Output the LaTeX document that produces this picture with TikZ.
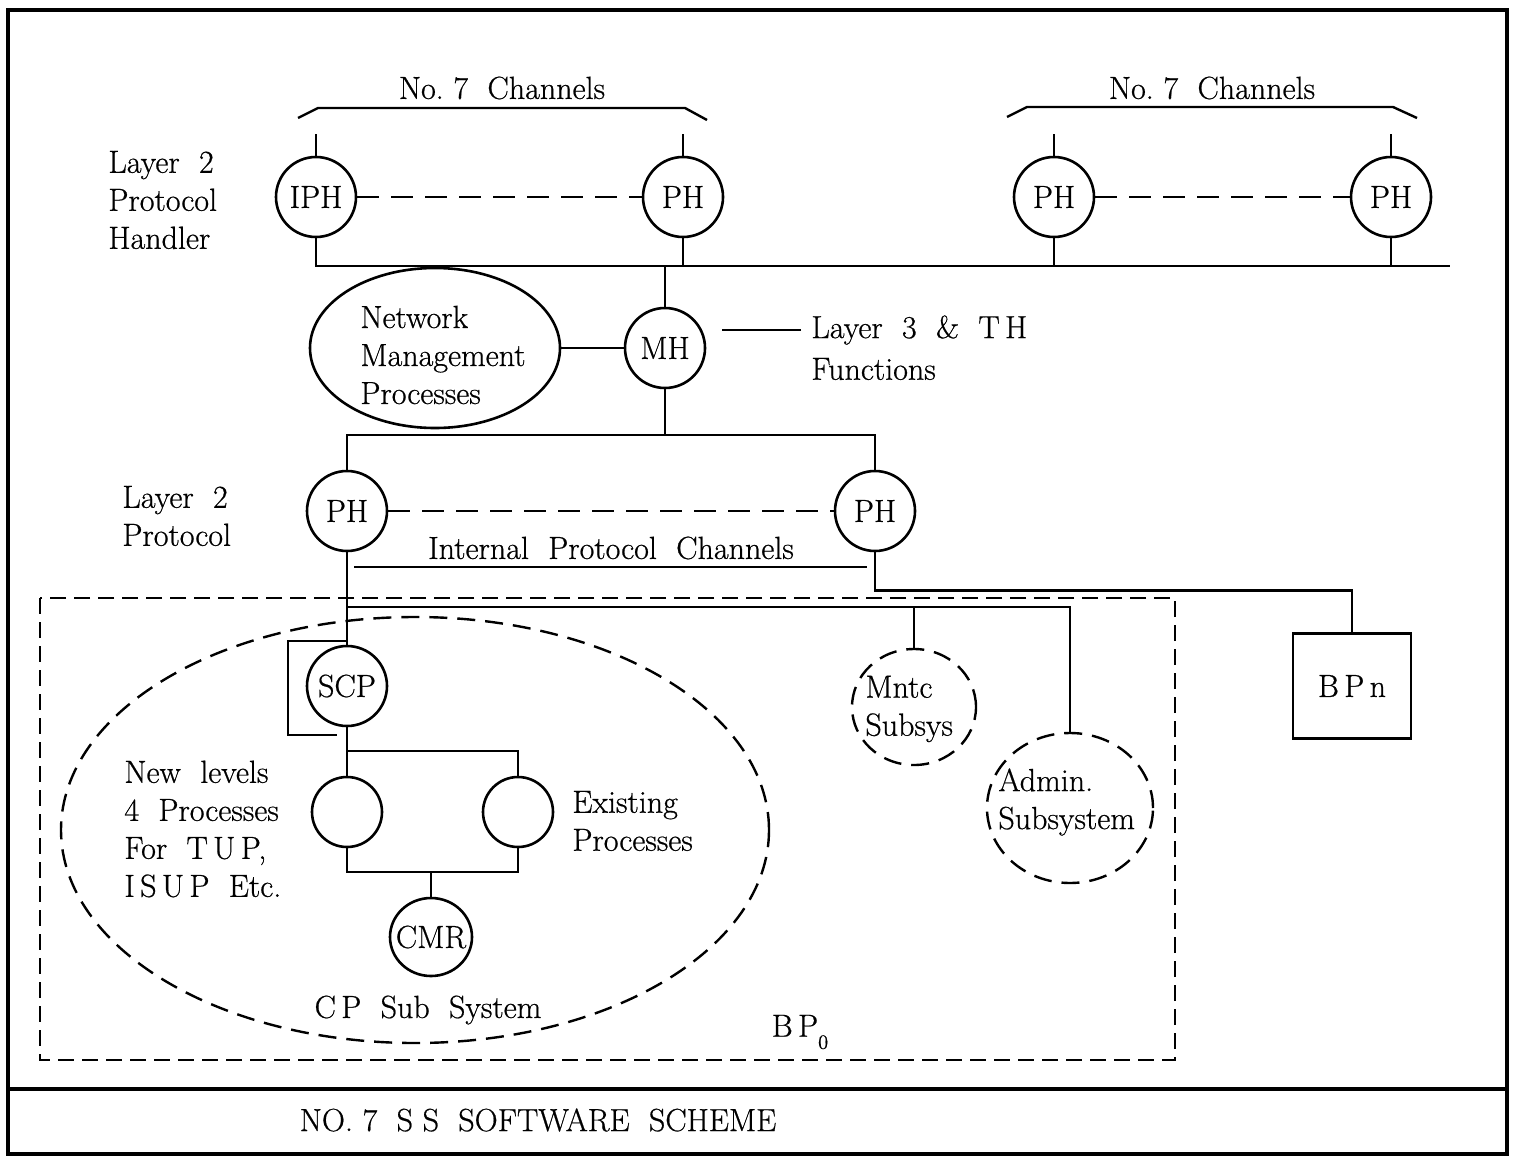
\documentclass[tikz,border=0pt]{standalone}
\usepackage{fontspec}
\setmainfont{Latin Modern Roman}[FakeBold=0.6]
\usetikzlibrary{shapes.geometric}
\begin{document}
\begin{tikzpicture}[x=0.5pt,y=-0.5pt,
  every node/.style={font=\fontsize{16}{19}\selectfont},
  wire/.style={line width=1.2pt},
  proc/.style={ellipse,draw,line width=1.3pt,inner sep=0pt,minimum width=40pt,minimum height=40pt},
  small/.style={proc,minimum width=35pt,minimum height=35pt},
  sub/.style={ellipse,draw,line width=1.2pt,inner sep=0pt,dash pattern=on 9pt off 5pt},
  txt/.style={inner sep=0pt,align=left},
  link/.style={wire,dash pattern=on 11pt off 6pt}]
\useasboundingbox (0,0) rectangle (1519,1156);

% frame and caption strip
\draw[line width=2pt] (8,10) rectangle (1507,1154);
\draw[line width=2pt] (8,1089) -- (1507,1089);
\node (title) at (538,1120) {NO.~7~~S~S~~SOFTWARE~~SCHEME};

% No. 7 channels
\node (ch1) at (502,88) {No.~7~~Channels};
\node (ch2) at (1212,88) {No.~7~~Channels};
\draw[wire] (298,118) -- (318,108) -- (685,108) -- (707,120);
\draw[wire] (1007,117) -- (1027,107) -- (1393,107) -- (1417,118);

% layer 2 protocol handlers
\node[proc] (iph) at (316,197) {\makebox[0pt]{IPH}};
\node[proc] (pha) at (683,197) {\makebox[0pt]{PH}};
\node[proc] (phb) at (1054,197) {\makebox[0pt]{PH}};
\node[proc] (phc) at (1391,197) {\makebox[0pt]{PH}};
\node[txt,anchor=west] (l2h) at (108,200) {Layer~~2\\Protocol\\Handler};

\foreach \n in {iph,pha,phb,phc}
  \draw[wire] (\n.north) -- ++(0,-22);
\draw[link] (iph.east) -- (pha.west);
\draw[link] (phb.east) -- (phc.west);

\coordinate (busR) at (1450,266);
\draw[wire] (iph.south) |- (busR);
\foreach \n in {pha,phb,phc}
  \draw[wire] (\n.south) -- (\n.south |- busR);

% message handler
\node[proc] (mh) at (665,348) {\makebox[0pt]{MH}};
\node[ellipse,draw,line width=1.3pt,minimum width=125pt,minimum height=80pt] (nmp) at (435,348) {};
\node[txt,anchor=west] at (360,355) {Network\\Management\\Processes};
\draw[wire] (mh.north) -- (mh.north |- busR);
\draw[wire] (nmp.east) -- (mh.west);
\node[txt,anchor=west] (l3) at (811,330) {Layer~~3~~\&~~T\,H};
\node[txt,anchor=west] (fn) at (811,369) {Functions};
\draw[wire] (l3.west) ++(-10,0) -- ++(-79,0);

% internal layer 2
\coordinate (b2) at (665,435);
\node[proc] (ph5) at (347,511) {\makebox[0pt]{PH}};
\node[proc] (ph6) at (875,511) {\makebox[0pt]{PH}};
\draw[wire] (mh.south) -- (b2);
\draw[wire] (ph5.north) |- (b2) -| (ph6.north);
\draw[link] (ph5.east) -- (ph6.west);
\node[txt,anchor=west] (l2p) at (122,516) {Layer~~2\\Protocol};
\node (ipc) at (611,548) {Internal~~Protocol~~Channels};
\draw[wire] (354,567) -- (867,567);

% BP n
\node[draw,line width=1.3pt,minimum width=59pt,minimum height=52.5pt] (bpn) at (1352,686) {B\,P\,n};
\draw[wire] (ph6.south) -- ++(0,38) -| (bpn.north);

% BP 0
\draw[line width=1.2pt,dash pattern=on 8pt off 4pt] (40,598) rectangle (1175,1060);
\node (bp0) at (800,1032) {B\,P\raisebox{-6pt}{\fontsize{10}{10}\selectfont 0}};

% CP sub system
\node[sub,minimum width=354pt,minimum height=213pt] (cpss) at (415,830) {};
\node (cpl) at (428,1010) {C\,P~~Sub~~System};
\node[proc] (scp) at (347,686) {\makebox[0pt]{SCP}};
\node[small] (pl) at (347,812) {};
\node[small] (pr) at (518,812) {};
\node[proc,minimum width=41pt,minimum height=39pt] (cmr) at (431,937) {\makebox[0pt]{CMR}};
\node[txt,anchor=west] at (124,829) {New~~levels\\4~~Processes\\For~~T\,U\,P,\\I\,S\,U\,P~~Etc.};
\node[txt,anchor=west] at (572,821) {Existing\\Processes};

\coordinate (j1) at (347,607);
\coordinate (b3) at (347,751);
\coordinate (b4) at (431,872);
\draw[wire] (ph5.south) -- (scp.north);
\draw[wire] (347,641) -- (288,641) -- (288,735) -- (337,735);
\draw[wire] (scp.south) -- (pl.north);
\draw[wire] (b3) -| (pr.north);
\draw[wire] (pl.south) |- (b4) -| (pr.south);
\draw[wire] (b4) -- (cmr.north);

% maintenance and admin subsystems
\node[sub,minimum width=62pt,minimum height=58pt] (mntc) at (914,707) {};
\node[txt,anchor=west] at (865,709) {Mntc\\Subsys};
\node[sub,minimum width=83pt,minimum height=75pt] (admin) at (1070,808) {};
\node[txt,anchor=west] at (998,802) {Admin.\\Subsystem};
\draw[wire] (j1) -| (admin.north);
\draw[wire] (mntc.north) -- (mntc.north |- j1);
\end{tikzpicture}
\end{document}
